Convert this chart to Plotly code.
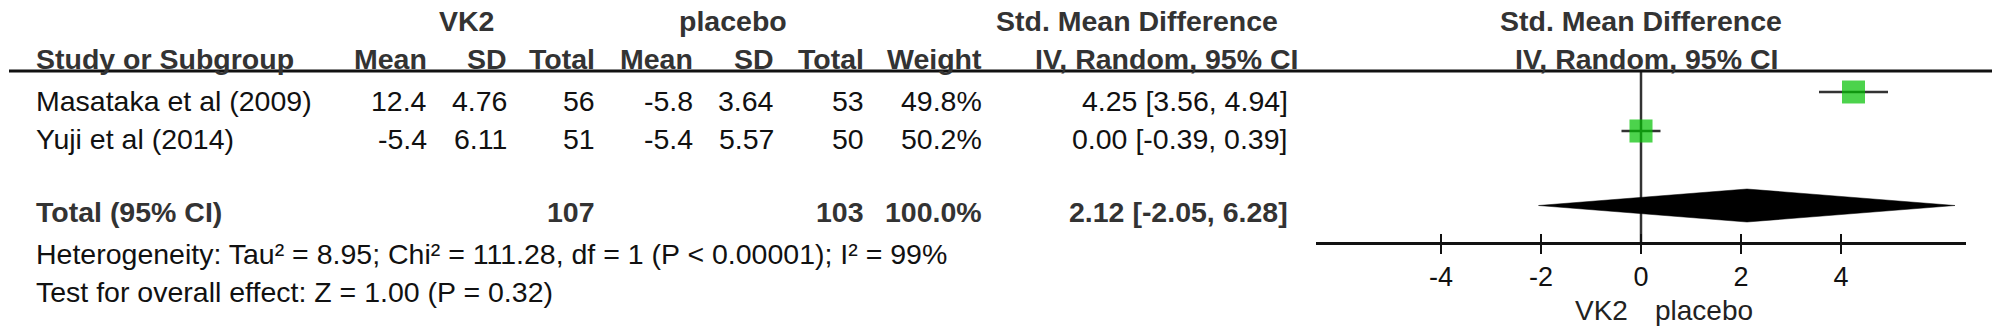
import plotly.graph_objects as go

# ---------------- data ----------------
studies = ["Masataka et al (2009)", "Yuji et al (2014)"]
vk2_mean = [12.4, -5.4]
vk2_sd = [4.76, 6.11]
vk2_total = [56, 51]
pl_mean = [-5.8, -5.4]
pl_sd = [3.64, 5.57]
pl_total = [53, 50]
weights = [49.8, 50.2]
smd = [4.25, 0.00]
ci_lo = [3.56, -0.39]
ci_hi = [4.94, 0.39]

total_label = "Total (95% CI)"
total_vk2 = 107
total_pl = 103
total_weight = 100.0
pooled = 2.12
pooled_lo = -2.05
pooled_hi = 6.28

heterogeneity = "Heterogeneity: Tau² = 8.95; Chi² = 111.28, df = 1 (P < 0.00001); I² = 99%"
overall_test = "Test for overall effect: Z = 1.00 (P = 0.32)"

group_labels = ["VK2", "placebo"]
col_headers = ["Study or Subgroup", "Mean", "SD", "Total", "Mean", "SD", "Total", "Weight", "IV, Random, 95% CI"]
effect_title = ["Std. Mean Difference", "IV, Random, 95% CI"]
tick_vals = [-4, -2, 0, 2, 4]
axis_range = [-6.5, 6.5]
favours = ["VK2", "placebo"]

# ---------------- layout constants (page pixels) ----------------
W, H = 2002, 333
FONT = "Liberation Sans, Arial, Helvetica, sans-serif"
FS = 28.5
BOLD_C = "#333333"
REG_C = "#111111"

row_text_y = [101, 139]
row_mark_y = [92, 131]
hdr1_y, hdr2_y = 21, 59
total_text_y, total_mark_y = 212, 205.5
het_y, test_y = 253.5, 292
axis_y = 243
line_y = 71
diamond_half = 16.5
square_base = 23

left_x = 34
col_right = [429, 509, 597, 695, 776, 866, 984, 1290]


def px(x):
    return x / W


fig = go.Figure()
annotations = []


def ann(text, xpos, ypx, anchor="left", bold=False, size=FS, color=None, xref="paper", xshift=0):
    if color is None:
        color = BOLD_C if bold else REG_C
    annotations.append(dict(
        text=f"<b>{text}</b>" if bold else text,
        x=px(xpos) if xref == "paper" else xpos, xref=xref,
        y=ypx, yref="y",
        xanchor=anchor, yanchor="middle", xshift=xshift,
        showarrow=False,
        font=dict(family=FONT, size=size, color=color),
    ))


# headers
ann(group_labels[0], 466, hdr1_y, "center", True)
ann(group_labels[1], 733, hdr1_y, "center", True)
ann(effect_title[0], 1280, hdr1_y, "right", True)
ann(col_headers[0], left_x, hdr2_y, "left", True)
for txt, xr in zip(col_headers[1:8], col_right[:7]):
    ann(txt, xr, hdr2_y, "right", True)
ann(col_headers[8], 1300, hdr2_y, "right", True)
ann(effect_title[0], 0, hdr1_y, "center", True, xref="x")
ann(effect_title[1], 0.1, hdr2_y, "center", True, xref="x")

# study rows
for i, name in enumerate(studies):
    y = row_text_y[i]
    ann(name, left_x, y, "left")
    vals = [f"{vk2_mean[i]:.1f}", f"{vk2_sd[i]:.2f}", f"{vk2_total[i]}",
            f"{pl_mean[i]:.1f}", f"{pl_sd[i]:.2f}", f"{pl_total[i]}",
            f"{weights[i]:.1f}%",
            f"{smd[i]:.2f} [{ci_lo[i]:.2f}, {ci_hi[i]:.2f}]"]
    for v, xr in zip(vals, col_right):
        ann(v, xr, y, "right")

# total row
ann(total_label, left_x, total_text_y, "left", True)
ann(str(total_vk2), col_right[2], total_text_y, "right", True)
ann(str(total_pl), col_right[5], total_text_y, "right", True)
ann(f"{total_weight:.1f}%", col_right[6], total_text_y, "right", True)
ann(f"{pooled:.2f} [{pooled_lo:.2f}, {pooled_hi:.2f}]", col_right[7], total_text_y, "right", True)

ann(heterogeneity, left_x, het_y, "left")
ann(overall_test, left_x, test_y, "left")

# favours labels
ann(favours[0], 0, 310, "right", color="#222222", size=28, xref="x", xshift=-11)
ann(favours[1], 0, 310, "left", color="#222222", size=28, xref="x", xshift=12)

# ---------------- marks ----------------
# zero line
fig.add_trace(go.Scatter(x=[0, 0], y=[line_y, axis_y], mode="lines",
                         line=dict(color="#333333", width=2.5), hoverinfo="skip", showlegend=False))

# whiskers
wx, wy = [], []
for i in range(len(studies)):
    wx += [ci_lo[i], ci_hi[i], None]
    wy += [row_mark_y[i], row_mark_y[i], None]
fig.add_trace(go.Scatter(x=wx, y=wy, mode="lines", line=dict(color="#333333", width=2.5),
                         hoverinfo="skip", showlegend=False))

# squares
fig.add_trace(go.Scatter(
    x=smd, y=row_mark_y, mode="markers",
    marker=dict(symbol="square", color="#00c000",
                size=[square_base * (w / 50.0) ** 0.5 for w in weights],
                line=dict(width=0)),
    hoverinfo="skip", showlegend=False))

# diamond
fig.add_trace(go.Scatter(
    x=[pooled_lo, pooled, pooled_hi, pooled, pooled_lo],
    y=[total_mark_y, total_mark_y - diamond_half, total_mark_y, total_mark_y + diamond_half, total_mark_y],
    mode="lines", fill="toself", fillcolor="#000000", line=dict(color="#000000", width=0.5),
    hoverinfo="skip", showlegend=False))

# invisible trace for overlay axis (upper tick halves)
fig.add_trace(go.Scatter(x=[0], y=[-100], xaxis="x2", yaxis="y", mode="markers",
                         marker=dict(opacity=0), hoverinfo="skip", showlegend=False))

dom = [px(1316), px(1966)]
pos = 1 - axis_y / H

fig.update_layout(
    width=W, height=H,
    margin=dict(l=0, r=0, t=0, b=0),
    paper_bgcolor="white", plot_bgcolor="white",
    showlegend=False,
    xaxis=dict(domain=dom, range=axis_range, anchor="free", position=pos,
               showline=True, linewidth=3, linecolor="#111111",
               ticks="outside", ticklen=9, tickwidth=2, tickcolor="#111111",
               tickvals=tick_vals, ticktext=[str(t) for t in tick_vals],
               tickfont=dict(family=FONT, size=27, color="#111111"),
               showgrid=False, zeroline=False, fixedrange=True),
    xaxis2=dict(domain=dom, range=axis_range, anchor="free", position=pos,
                overlaying="x", side="bottom", matches="x",
                showline=False, ticks="inside", ticklen=9, tickwidth=2, tickcolor="#111111",
                tickvals=tick_vals, showticklabels=False,
                showgrid=False, zeroline=False),
    yaxis=dict(domain=[0, 1], range=[H, 0], visible=False, fixedrange=True),
    shapes=[dict(type="line", xref="paper", yref="y", x0=px(9), x1=px(1992),
                 y0=line_y, y1=line_y, line=dict(color="#111111", width=3))],
    annotations=annotations,
)

fig.write_html("out.html",
               config={"displayModeBar": False, "staticPlot": True},
               post_script="document.body.style.margin='0px';document.body.style.padding='0px';")
